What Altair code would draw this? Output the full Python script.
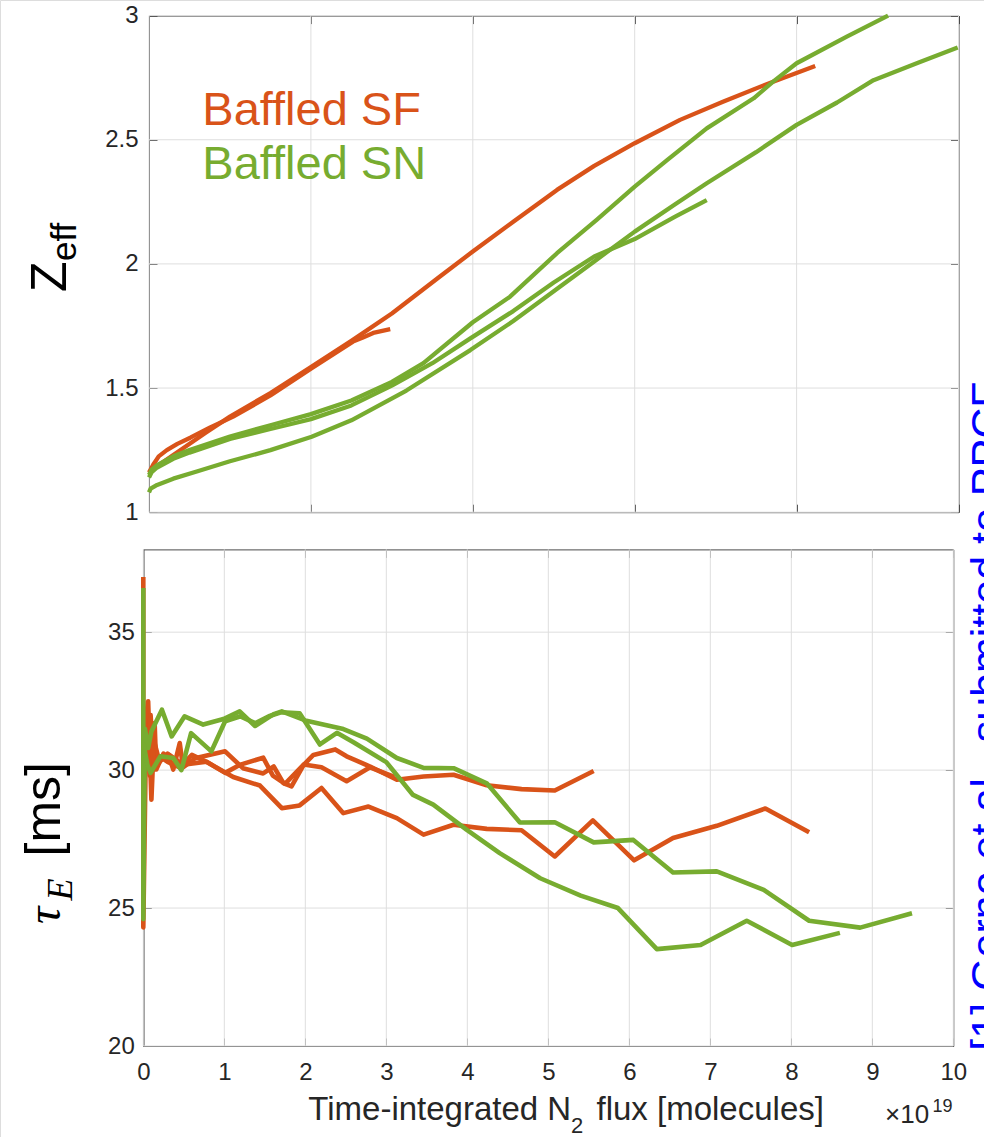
import altair as alt
import pandas as pd

ORANGE = "#D95319"
GREEN = "#77AC30"
AXIS = "#4a4a4a"
GRID = "#dedede"
TXT = "#262626"
FONT = "Liberation Sans"
SERIF = "Liberation Serif"

# ---------------- Top panel: Z_eff vs time-integrated N2 flux (x in 1e19 molecules)
zeff_sf1_x = [0.03, 0.3, 0.7, 1.0, 1.5, 2.0, 2.5, 3.0, 3.59, 4.0, 4.5, 5.04, 5.5, 6.0, 6.56, 7.09, 7.71, 8.23]
zeff_sf1_y = [1.17, 1.23, 1.32, 1.385, 1.48, 1.585, 1.69, 1.80, 1.948, 2.05, 2.17, 2.298, 2.395, 2.486, 2.58, 2.653, 2.734, 2.797]
zeff_sf2_x = [0.0, 0.05, 0.12, 0.22, 0.35, 0.51, 0.75, 1.04, 1.5, 2.01, 2.52, 2.65, 2.77, 2.98]
zeff_sf2_y = [1.16, 1.19, 1.225, 1.25, 1.275, 1.30, 1.34, 1.385, 1.47, 1.58, 1.687, 1.705, 1.722, 1.737]

zeff_sn1_x = [0.0, 0.03, 0.1, 0.3, 0.5, 1.0, 1.5, 2.0, 2.5, 3.0, 3.39, 4.0, 4.46, 5.04, 5.53, 6.0, 6.4, 6.89, 7.47, 7.71, 8.0, 8.62, 9.13]
zeff_sn1_y = [1.15, 1.17, 1.19, 1.225, 1.25, 1.305, 1.35, 1.395, 1.45, 1.525, 1.60, 1.765, 1.868, 2.043, 2.177, 2.311, 2.418, 2.546, 2.667, 2.734, 2.808, 2.915, 3.0]
zeff_sn2_x = [0.0, 0.02, 0.1, 0.3, 0.6, 1.0, 1.5, 2.01, 2.5, 3.18, 3.97, 4.5, 5.0, 5.5, 6.0, 6.5, 6.89, 7.5, 8.0, 8.5, 8.95, 9.5, 9.99]
zeff_sn2_y = [1.08, 1.095, 1.11, 1.135, 1.165, 1.205, 1.25, 1.304, 1.37, 1.49, 1.653, 1.77, 1.89, 2.01, 2.13, 2.24, 2.325, 2.45, 2.56, 2.65, 2.74, 2.81, 2.872]
zeff_sn3_x = [0.0, 0.03, 0.1, 0.3, 0.5, 1.0, 1.5, 2.0, 2.5, 3.0, 3.5, 3.97, 4.5, 5.0, 5.5, 6.0, 6.5, 6.89]
zeff_sn3_y = [1.14, 1.16, 1.18, 1.215, 1.24, 1.295, 1.335, 1.375, 1.43, 1.51, 1.60, 1.70, 1.81, 1.925, 2.03, 2.10, 2.19, 2.257]

# ---------------- Bottom panel: tau_E [ms]
tau_sf1_x = [0.0, 0.0, 0.03, 0.06, 0.10, 0.14, 0.16, 0.25, 0.33, 0.37, 0.45, 0.49, 0.64, 1.01, 1.23, 1.48, 1.61, 1.73, 1.83, 1.98, 2.10, 2.37, 2.51, 2.80, 3.13, 3.46, 3.83, 4.24, 4.67, 5.08, 5.56]
tau_sf1_y = [37.0, 24.3, 30.5, 32.49, 28.93, 31.71, 30.02, 30.6, 30.38, 30.02, 30.98, 30.1, 30.43, 30.68, 30.07, 29.88, 30.13, 29.53, 29.41, 30.19, 30.55, 30.75, 30.5, 30.13, 29.65, 29.77, 29.83, 29.45, 29.31, 29.26, 29.97]
tau_sf2_x = [0.0, 0.04, 0.08, 0.12, 0.2, 0.3, 0.49, 0.78, 1.11, 1.44, 1.71, 1.93, 2.2, 2.47, 2.78, 3.13, 3.46, 3.83, 4.24, 4.67, 5.08, 5.55, 6.06, 6.54, 7.08, 7.68, 8.22]
tau_sf2_y = [30.4, 31.6, 29.8, 31.2, 30.3, 30.6, 30.2, 30.3, 29.75, 29.44, 28.62, 28.72, 29.35, 28.44, 28.68, 28.26, 27.66, 28.02, 27.87, 27.82, 26.87, 28.18, 26.73, 27.54, 27.98, 28.61, 27.75]
tau_sf3_x = [0.0, 0.05, 0.09, 0.13, 0.2, 0.3, 0.45, 0.6, 0.78, 1.01, 1.2, 1.48, 1.6, 1.75, 1.98, 2.2, 2.51, 2.8, 3.1]
tau_sf3_y = [30.2, 30.6, 32.0, 30.1, 30.5, 30.3, 30.1, 30.55, 30.3, 29.9, 30.2, 30.45, 29.8, 29.5, 30.2, 30.1, 29.6, 30.1, 29.75]

tau_sn1_x = [0.0, 0.0, 0.02, 0.06, 0.10, 0.23, 0.35, 0.51, 0.74, 0.99, 1.19, 1.38, 1.61, 1.71, 2.0, 2.47, 2.76, 3.13, 3.46, 3.83, 4.24, 4.65, 5.08, 5.56, 6.05, 6.54, 7.08, 7.66, 8.22, 8.85, 9.49]
tau_sn1_y = [36.6, 24.6, 31.5, 30.8, 31.4, 32.19, 31.22, 31.95, 31.65, 31.85, 32.13, 31.6, 32.03, 32.13, 31.8, 31.49, 31.14, 30.44, 30.08, 30.07, 29.52, 28.1, 28.11, 27.38, 27.47, 26.29, 26.33, 25.66, 24.54, 24.29, 24.81]
tau_sn2_x = [0.0, 0.05, 0.09, 0.21, 0.37, 0.47, 0.59, 0.84, 1.01, 1.2, 1.38, 1.55, 1.71, 1.93, 2.18, 2.39, 2.6, 3.0, 3.33, 3.58, 3.99, 4.4, 4.9, 5.4, 5.86, 6.34, 6.88, 7.45, 8.01, 8.6]
tau_sn2_y = [31.0, 30.2, 29.9, 30.5, 30.44, 30.0, 31.34, 30.68, 31.77, 31.95, 31.7, 31.95, 32.1, 32.06, 30.93, 31.35, 31.0, 30.29, 29.1, 28.75, 27.84, 26.99, 26.08, 25.45, 25.0, 23.51, 23.66, 24.54, 23.66, 24.1]

# axis ticks / domains
top_xdomain = [0, 10]
top_ydomain = [1, 3]
bot_xdomain = [0, 10]
bot_ydomain = [20, 38]
top_xticks = [0, 2, 4, 6, 8, 10]
top_yticks = [1, 1.5, 2, 2.5, 3]
bot_xticks = [0, 1, 2, 3, 4, 5, 6, 7, 8, 9, 10]
bot_yticks = [20, 25, 30, 35]

legend_labels = ["Baffled SF", "Baffled SN"]
ref_text = "[1] Gorno et al., submitted to PPCF"

# ---------------- layout (page pixels)
W, H = 984, 1137
TOP_X = [149.0, 958.5]
TOP_Y = [512.2, 15.6]
BOT_X = [143.3, 953.3]
BOT_Y = [1046.0, 549.4]


def series_df(series):
    rows = []
    for name, xs, ys in series:
        for i, (a, b) in enumerate(zip(xs, ys)):
            rows.append({"s": name, "i": i, "x": a, "v": b})
    return pd.DataFrame(rows)


def txt(s, x, y, size, color="#000000", font=FONT, angle=0, style="normal"):
    return alt.Chart(pd.DataFrame({"t": [s]})).mark_text(
        align="left", baseline="alphabetic", fontSize=size, font=font, fontStyle=style,
        angle=angle, color=color
    ).encode(text="t:N", x=alt.value(x), y=alt.value(y))


def panel_layers(orange, green, xdom, ydom, xr, yr, xvals, yvals, show_xlabels, ylabpad, lw):
    xs = alt.Scale(domain=xdom, range=xr, nice=False, zero=False)
    ys = alt.Scale(domain=ydom, range=yr, nice=False, zero=False)
    dfo = series_df(orange)
    dfg = series_df(green)
    dfall = pd.concat([dfo, dfg], ignore_index=True)
    layers = []
    # grid lines
    vg = pd.DataFrame({"x": xvals, "a": [ydom[0]] * len(xvals), "b": [ydom[1]] * len(xvals)})
    hg = pd.DataFrame({"y": yvals, "a": [xdom[0]] * len(yvals), "b": [xdom[1]] * len(yvals)})
    layers.append(alt.Chart(vg).mark_rule(color=GRID, strokeWidth=1).encode(
        x=alt.X("x:Q", scale=xs, axis=None), y=alt.Y("a:Q", scale=ys, axis=None), y2="b:Q"))
    layers.append(alt.Chart(hg).mark_rule(color=GRID, strokeWidth=1).encode(
        y=alt.Y("y:Q", scale=ys, axis=None), x=alt.X("a:Q", scale=xs, axis=None), x2="b:Q"))
    tc = dict(grid=False, labels=False, ticks=True, tickSize=8, tickColor=AXIS, tickWidth=1,
              domain=True, domainColor=AXIS, domainWidth=1, title=None)
    lab = dict(labelFont=FONT, labelFontSize=24, labelColor=TXT, labelExpr="datum.value + ''",
               labelFlush=False, labelOverlap=False, grid=False, ticks=False, tickSize=0, title=None)
    # frame 1: bottom edge (ticks up), left edge with labels
    layers.append(alt.Chart(dfall).mark_line(opacity=0).encode(
        x=alt.X("x:Q", scale=xs, axis=alt.Axis(orient="top", offset=-yr[0], values=xvals, **tc)),
        y=alt.Y("v:Q", scale=ys, axis=alt.Axis(orient="left", offset=-xr[0], values=yvals,
                                                domain=True, domainColor=AXIS, domainWidth=1,
                                                labelPadding=ylabpad, **lab)),
        detail="s:N", order="i:Q"))
    # frame 2: top edge (ticks down), left edge ticks (pointing right)
    layers.append(alt.Chart(dfall).mark_line(opacity=0).encode(
        x=alt.X("x:Q", scale=xs, axis=alt.Axis(orient="bottom", offset=yr[1] - H, values=xvals, **tc)),
        y=alt.Y("v:Q", scale=ys, axis=alt.Axis(orient="right", offset=xr[0] - W, values=yvals, **tc)),
        detail="s:N", order="i:Q"))
    # frame 3: right edge (ticks left), x labels under bottom edge
    if show_xlabels:
        xlab = alt.Axis(orient="bottom", offset=yr[0] - H, values=xvals, domain=False,
                        labelPadding=14, **lab)
    else:
        xlab = None
    layers.append(alt.Chart(dfall).mark_line(opacity=0).encode(
        x=alt.X("x:Q", scale=xs, axis=xlab),
        y=alt.Y("v:Q", scale=ys, axis=alt.Axis(orient="left", offset=-xr[1], values=yvals, **tc)),
        detail="s:N", order="i:Q"))
    # data lines
    layers.append(alt.Chart(dfo).mark_line(color=ORANGE, strokeWidth=lw, strokeJoin="round").encode(
        x=alt.X("x:Q", scale=xs, axis=None), y=alt.Y("v:Q", scale=ys, axis=None),
        detail="s:N", order="i:Q"))
    layers.append(alt.Chart(dfg).mark_line(color=GREEN, strokeWidth=lw, strokeJoin="round").encode(
        x=alt.X("x:Q", scale=xs, axis=None), y=alt.Y("v:Q", scale=ys, axis=None),
        detail="s:N", order="i:Q"))
    return layers


top_layers = panel_layers(
    [("sf1", zeff_sf1_x, zeff_sf1_y), ("sf2", zeff_sf2_x, zeff_sf2_y)],
    [("sn1", zeff_sn1_x, zeff_sn1_y), ("sn2", zeff_sn2_x, zeff_sn2_y), ("sn3", zeff_sn3_x, zeff_sn3_y)],
    top_xdomain, top_ydomain, TOP_X, TOP_Y, top_xticks, top_yticks, False, 11, 4.3)

bot_layers = panel_layers(
    [("sf1", tau_sf1_x, tau_sf1_y), ("sf2", tau_sf2_x, tau_sf2_y), ("sf3", tau_sf3_x, tau_sf3_y)],
    [("sn1", tau_sn1_x, tau_sn1_y), ("sn2", tau_sn2_x, tau_sn2_y)],
    bot_xdomain, bot_ydomain, BOT_X, BOT_Y, bot_xticks, bot_yticks, True, 9, 4.6)

texts = [
    txt(legend_labels[0], 202.3, 125, 47, ORANGE),
    txt(legend_labels[1], 202.3, 179.2, 47, GREEN),
    txt("Z", 66, 292, 50, "#000000", angle=270),
    txt("eff", 76, 261, 35, "#000000", angle=270),
    txt("τ", 60, 924, 48, "#000000", font=SERIF, angle=270, style="italic"),
    txt("E", 72, 900.5, 36, "#000000", font=SERIF, angle=270, style="italic"),
    txt("[ms]", 60, 856.5, 50, "#000000", angle=270),
    txt("Time-integrated N", 308.3, 1120, 33, TXT),
    txt("2", 571, 1133, 22, TXT),
    txt("flux [molecules]", 596.5, 1120, 33, TXT),
    txt("×10", 885, 1123, 26, TXT),
    txt("19", 932.5, 1111.7, 18, TXT),
    txt(ref_text, 1000.5, 1050.7, 43, "#0000FF", angle=270),
]

chart = alt.layer(*top_layers, *bot_layers, *texts).resolve_scale(
    x="independent", y="independent"
).resolve_axis(
    x="independent", y="independent"
).properties(
    width=W, height=H, padding=0, autosize=alt.AutoSizeParams(type="none")
).configure_view(strokeWidth=0, strokeOpacity=0).configure(background="white")

chart.save("out.html", embed_options={"renderer": "svg", "actions": False})
